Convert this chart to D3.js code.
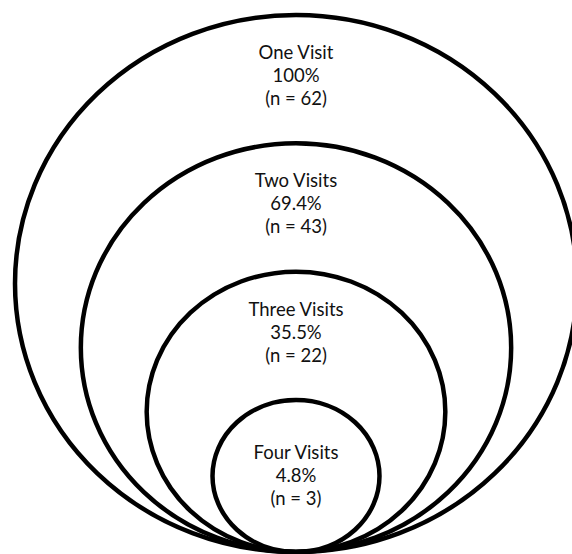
<!DOCTYPE html>
<html>
<head>
<meta charset="utf-8">
<script src="https://cdn.jsdelivr.net/npm/d3@7"></script>
<style>
  body { margin: 0; background: #fff; }
  text { font-family: Lato, "Open Sans", sans-serif; fill: #111; }
</style>
</head>
<body>
<svg id="chart"></svg>
<script>
// data
let labels = ['One Visit', 'Two Visits', 'Three Visits', 'Four Visits']
let percents = [100, 69.4, 35.5, 4.8]
let counts = [62, 43, 22, 3]

let w = 572
let h = 554
let cx = 296
let bottom = 552
let lineGap = 23

let svg = d3.select('#chart')
  .attr('width', w)
  .attr('height', h)

// rings shrink in equal steps, all touching at the bottom
let rxScale = d3.scalePoint().domain(labels).range([281, 83.5])
let ryScale = d3.scalePoint().domain(labels).range([268.5, 76])

let rows = labels.map((d, i) => ({
  label: d,
  pct: percents[i],
  n: counts[i]
}))

svg.selectAll('ellipse')
  .data(rows)
  .enter()
  .append('ellipse')
  .attr('cx', cx)
  .attr('cy', (d) => bottom - ryScale(d.label))
  .attr('rx', (d) => rxScale(d.label))
  .attr('ry', (d) => ryScale(d.label))
  .attr('fill', 'none')
  .attr('stroke', '#000')
  .attr('stroke-width', 4.5)

let fmt = (v) => v === 100 ? '100%' : d3.format('.1f')(v) + '%'

// labels sit near the top of each ring, the smallest one is centred
let groups = svg.selectAll('g.lbl')
  .data(rows)
  .enter()
  .append('g')
  .attr('class', 'lbl')
  .attr('transform', (d) => {
    let ry = ryScale(d.label)
    let top = bottom - 2 * ry
    let y = ry < 100 ? bottom - ry - 17 : top + 44
    return 'translate(' + cx + ',' + y + ')'
  })

groups.selectAll('text')
  .data((d) => [d.label, fmt(d.pct), '(n = ' + d.n + ')'])
  .enter()
  .append('text')
  .attr('y', (d, i) => i * lineGap)
  .attr('text-anchor', 'middle')
  .attr('font-size', 18.5)
  .text((d) => d)
</script>
</body>
</html>
